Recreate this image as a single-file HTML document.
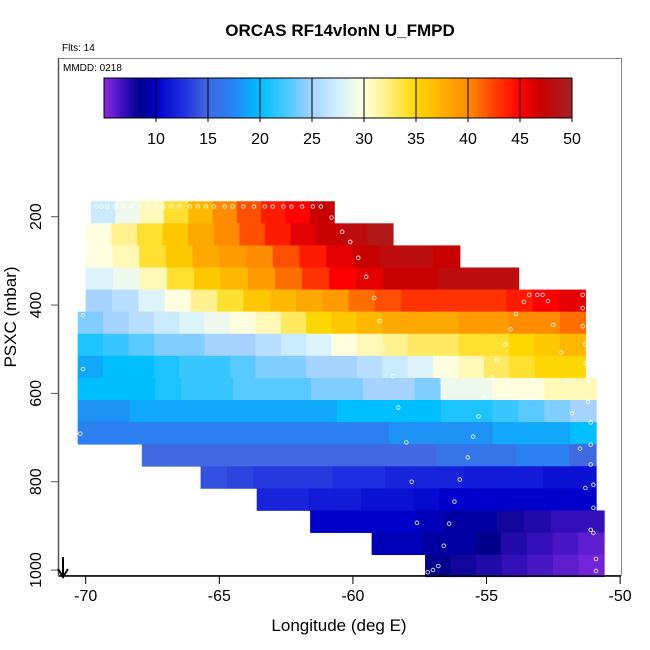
<!DOCTYPE html>
<html><head><meta charset="utf-8">
<style>
html,body{margin:0;padding:0;background:#fff;}
svg{display:block;font-family:"Liberation Sans",sans-serif;}
</style></head>
<body>
<svg id="chart" width="650" height="650" viewBox="0 0 650 650">
<rect x="0" y="0" width="650" height="650" fill="#fff"/>
<text x="340" y="36" text-anchor="middle" font-size="17" font-weight="bold">ORCAS RF14vlonN U_FMPD</text>
<text x="62" y="51" font-size="10">Flts: 14</text>
<rect x="58.5" y="58.5" width="563" height="517" fill="none" stroke="#888" stroke-width="1"/>
<text x="63" y="71" font-size="10">MMDD: 0218</text>
<g id="cells"></g>
<g id="points"></g>
<g id="cbar"></g>
<g id="axes"></g>
<line x1="58.5" y1="576" x2="621" y2="576" stroke="#000" stroke-width="1.5"/>
<line x1="58.5" y1="58" x2="58.5" y2="576" stroke="#555" stroke-width="1.5"/>
<g>
<line x1="63" y1="557" x2="63" y2="576" stroke="#000" stroke-width="2"/>
<path d="M58 569 L63 577 L68 569" fill="none" stroke="#000" stroke-width="2"/>
</g>
<text x="339" y="631" text-anchor="middle" font-size="17">Longitude (deg E)</text>
<text transform="translate(16,317) rotate(-90)" text-anchor="middle" font-size="17">PSXC (mbar)</text>
</svg>
<script>
const xTicks=[-70,-65,-60,-55,-50];
const yTicks=[200,400,600,800,1000];
const cbTicks=[10,15,20,25,30,35,40,45,50];
const rowPres=[190,240,290,340,390,440,490,540,590,640,690,740,790,840,890,940,990];
const rowStart=[-69.8,-70,-70,-70,-70,-70.3,-70.3,-70.3,-70.3,-70.3,-70.3,-67.9,-65.7,-63.6,-61.6,-59.3,-57.3];
const rowEnd=[-60.7,-58.5,-56,-53.8,-51.3,-51.3,-51.3,-51.3,-50.9,-50.9,-50.9,-50.9,-50.9,-50.9,-50.6,-50.6,-50.6];
const rowVals=[
[27,29,31,34,37,40,42,44,45,47],
[30,32,34,36,38,40,42,44,46,47,48,49],
[30,31,34,36,38,39,40,42,44,46,47,48,48,47],
[28,29,31,34,36,37,39,41,43,45,46,47,47,48,48,48],
[25,26,28,30,32,34,36,37,38,39,41,42,43,43,43,43,44,45,46],
[24,25,26,27,28,29,30,31,33,35,36,37,38,38,38,39,39,40,40,41],
[21,22,23,24,24,25,25,26,27,28,30,31,32,33,33,34,34,35,36,37],
[19,20,20,21,22,22,23,24,24,25,25,26,27,28,30,31,33,34,35,35],
[20,20,20,21,22,22,23,23,23,24,24,25,25,24,29,29,30,30,31,31],
[18,18,19,19,19,19,19,19,19,19,20,20,20,20,21,21,22,23,24,25],
[17,17,17,17,17,17,17,17,17,17,17,17,18,18,18,18,19,19,19,20],
[15,15,15,15,15,15,15,15,15,15,15,16,16,16,17,17,15],
[14,13.5,13,13,13,12.5,12.5,12,12,12,11.5,11.5,11.5,11,11],
[12,12,11.5,11.5,11,11,10.5,10,10,10,10,10,10],
[10,10,10,10,9.5,9,9,8,7.5,7,7],
[9.5,9.5,9,9,8.5,7.5,7,6.5,6],
[8.5,8,7.5,7,6.5,6,5.5]
];
const ptLon=[-69.6,-69.4,-69.2,-68.9,-68.6,-68.3,-68.0,-67.7,-67.4,-67.1,-66.8,-66.5,-66.1,-65.8,-65.5,-65.2,-64.8,-64.5,-64.1,-63.7,-63.3,-63.0,-62.6,-62.3,-61.9,-61.5,-61.2,-60.8,
-60.4,-60.1,-59.8,-59.5,-59.2,-59.0,-58.8,-58.5,-58.3,-58.0,-57.8,-57.6,
-53.6,-53.9,-54.1,-54.3,-54.6,-54.8,-55.1,-55.3,-55.5,-55.7,-56.0,-56.2,-56.4,-56.6,-56.8,-57.0,-57.2,-57.4,
-53.4,-53.1,-52.9,-52.7,-52.5,-52.2,-52.0,-51.8,-51.5,-51.3,-51.1,-50.9,-50.9,
-51.4,-51.4,-51.4,-51.3,-51.3,-51.2,-51.2,-51.1,-51.1,-51.1,-51.0,-51.0,-51.0,
-69.8,-69.9,-70.1,-70.1,-70.2];
const ptPres=[177,177,177,177,177,177,177,177,177,177,177,177,177,177,177,177,177,177,177,177,177,177,177,177,177,177,177,202,
234,257,293,336,384,436,495,561,632,711,800,893,
393,420,455,489,525,564,607,652,698,745,795,845,895,945,991,1000,1005,995,
377,377,377,391,445,507,573,645,725,814,909,975,1002,
377,407,448,489,532,575,620,666,716,761,807,859,916,
223,302,423,545,691];
const NS="http://www.w3.org/2000/svg";
const X=lon=>85.7+(lon+70)*26.72;
const Y=p=>216.7+(p-200)*0.4417;
const CB=v=>104+(v-5)*(468/45);
const stops=[[5,[138,43,226]],[7,[50,15,185]],[8.5,[0,0,140]],[10,[0,0,205]],[12.5,[30,45,222]],[15,[65,105,225]],[17.5,[37,133,245]],[20,[0,191,255]],[22.5,[70,200,255]],[25,[165,210,255]],[27.5,[210,240,255]],[30,[255,255,224]],[32.5,[255,238,120]],[35,[255,215,0]],[37.5,[255,176,0]],[40,[255,140,0]],[42.5,[255,64,0]],[45,[255,0,0]],[47,[200,0,0]],[50,[165,35,35]]];
function col(v){
  if(v<=stops[0][0])return 'rgb('+stops[0][1]+')';
  for(let i=1;i<stops.length;i++){
    if(v<=stops[i][0]){const a=stops[i-1],b=stops[i];const t=(v-a[0])/(b[0]-a[0]);
      return 'rgb('+a[1].map((c,k)=>Math.round(c+(b[1][k]-c)*t)).join(',')+')';}
  }
  return 'rgb('+stops[stops.length-1][1]+')';
}
const cells=document.getElementById('cells');
rowVals.forEach((vals,r)=>{
  const w=(rowEnd[r]-rowStart[r])/vals.length;
  vals.forEach((v,c)=>{
    const x0=X(rowStart[r]+c*w),x1=X(rowStart[r]+(c+1)*w);
    const y0=Y(rowPres[r]-25),y1=Y(rowPres[r]+25);
    const e=document.createElementNS(NS,'rect');
    e.setAttribute('x',x0);e.setAttribute('y',y0);
    e.setAttribute('width',x1-x0+0.6);e.setAttribute('height',y1-y0+0.4);
    e.setAttribute('fill',col(v));
    
    
    cells.appendChild(e);
  });
});
const pts=document.getElementById('points');
ptLon.forEach((lon,i)=>{
  const e=document.createElementNS(NS,'circle');
  e.setAttribute('cx',X(lon));e.setAttribute('cy',Y(ptPres[i]));e.setAttribute('r',1.8);
  e.setAttribute('fill','none');e.setAttribute('stroke','#fff');e.setAttribute('stroke-width','0.9');e.setAttribute('opacity','0.85');
  
  
  pts.appendChild(e);
});
const cb=document.getElementById('cbar');
for(let v=5;v<50;v+=0.25){
  const e=document.createElementNS(NS,'rect');
  e.setAttribute('x',CB(v));e.setAttribute('y',78);e.setAttribute('width',CB(v+0.25)-CB(v)+0.5);e.setAttribute('height',40);
  e.setAttribute('fill',col(v+0.125));
  
  
  cb.appendChild(e);
}
const br=document.createElementNS(NS,'rect');
br.setAttribute('x',CB(5));br.setAttribute('y',78);br.setAttribute('width',CB(50)-CB(5));br.setAttribute('height',40);
br.setAttribute('fill','none');br.setAttribute('stroke','#000');br.setAttribute('stroke-width','1');


cb.appendChild(br);
cbTicks.forEach(t=>{
  const l=document.createElementNS(NS,'line');
  l.setAttribute('x1',CB(t));l.setAttribute('x2',CB(t));l.setAttribute('y1',78);l.setAttribute('y2',122);
  l.setAttribute('stroke','#000');l.setAttribute('stroke-width','1');
  
  
  cb.appendChild(l);
  const tx=document.createElementNS(NS,'text');
  tx.setAttribute('x',CB(t));tx.setAttribute('y',144);tx.setAttribute('text-anchor','middle');tx.setAttribute('font-size','16');
  tx.textContent=t;
  
  
  cb.appendChild(tx);
});
const ax=document.getElementById('axes');
xTicks.forEach(t=>{
  const l=document.createElementNS(NS,'line');
  l.setAttribute('x1',X(t));l.setAttribute('x2',X(t));l.setAttribute('y1',576);l.setAttribute('y2',584);
  l.setAttribute('stroke','#000');
  
  
  ax.appendChild(l);
  const tx=document.createElementNS(NS,'text');
  tx.setAttribute('x',X(t));tx.setAttribute('y',601);tx.setAttribute('text-anchor','middle');tx.setAttribute('font-size','16');
  tx.textContent=t;
  
  
  ax.appendChild(tx);
});
yTicks.forEach(t=>{
  const l=document.createElementNS(NS,'line');
  l.setAttribute('x1',51);l.setAttribute('x2',58.5);l.setAttribute('y1',Y(t));l.setAttribute('y2',Y(t));
  l.setAttribute('stroke','#555');
  
  
  ax.appendChild(l);
  const tx=document.createElementNS(NS,'text');
  tx.setAttribute('transform','translate(41,'+Y(t)+') rotate(-90)');tx.setAttribute('text-anchor','middle');tx.setAttribute('font-size','16');
  tx.textContent=t;
  
  
  ax.appendChild(tx);
});
</script>
</body></html>
